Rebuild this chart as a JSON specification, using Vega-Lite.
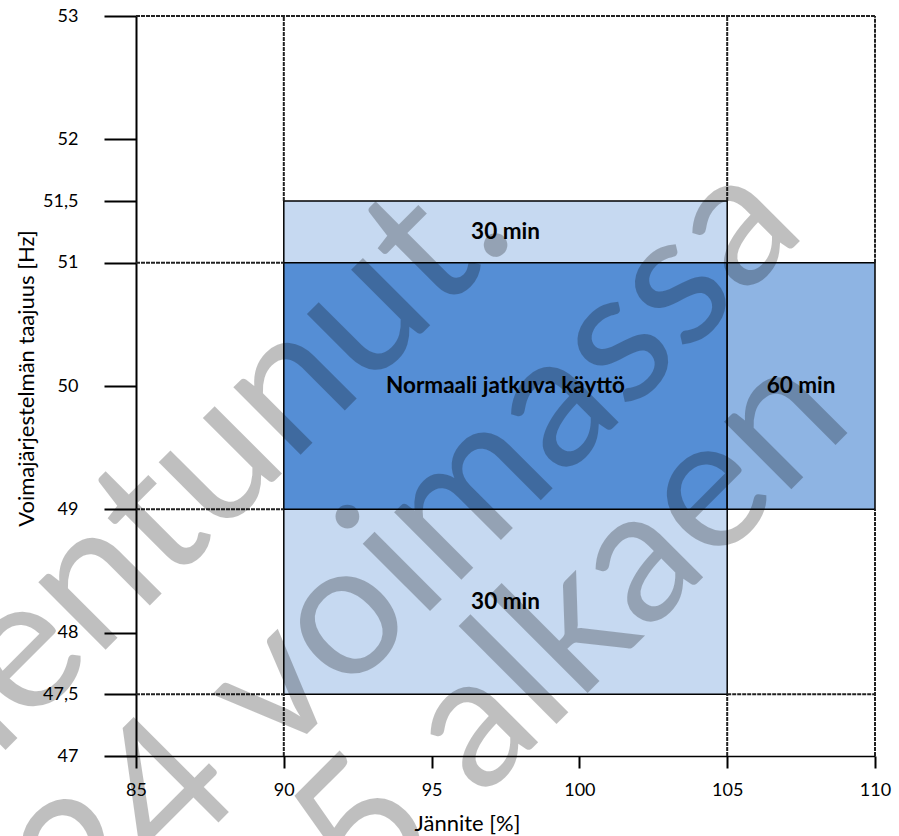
{
  "$schema": "https://vega.github.io/schema/vega-lite/v6.json",
  "width": 739,
  "height": 740,
  "autosize": {"type": "none"},
  "padding": {"left": 136, "top": 16, "right": 24, "bottom": 80},
  "background": "white",
  "config": {"view": {"stroke": null}, "font": "Lato"},
  "datasets": {
    "alueet": [
      {"alue": "30 min", "x": 90, "x2": 105, "y": 51, "y2": 51.5},
      {"alue": "30 min", "x": 90, "x2": 105, "y": 47.5, "y2": 49},
      {"alue": "Normaali", "x": 90, "x2": 105, "y": 49, "y2": 51},
      {"alue": "60 min", "x": 105, "x2": 110, "y": 49, "y2": 51}
    ],
    "katkoviivat": [
      {"x": 85, "x2": 110, "y": 53, "y2": 53},
      {"x": 90, "x2": 90, "y": 51.5, "y2": 53},
      {"x": 105, "x2": 105, "y": 51.5, "y2": 53},
      {"x": 110, "x2": 110, "y": 51, "y2": 53},
      {"x": 90, "x2": 90, "y": 47, "y2": 47.5},
      {"x": 105, "x2": 105, "y": 47, "y2": 47.5},
      {"x": 110, "x2": 110, "y": 47, "y2": 49},
      {"x": 85, "x2": 90, "y": 51, "y2": 51},
      {"x": 85, "x2": 90, "y": 49, "y2": 49},
      {"x": 85, "x2": 90, "y": 47.5, "y2": 47.5},
      {"x": 105, "x2": 110, "y": 47.5, "y2": 47.5}
    ],
    "tekstit": [
      {"teksti": "30 min", "x": 97.5, "y": 51.25},
      {"teksti": "Normaali jatkuva käyttö", "x": 97.5, "y": 50},
      {"teksti": "60 min", "x": 107.5, "y": 50},
      {"teksti": "30 min", "x": 97.5, "y": 48.25}
    ],
    "vesileima": [
      {"teksti": "Vanhentunut.", "x": 83.29, "y": 48.34},
      {"teksti": "2024 voimassa", "x": 91.7, "y": 48.04},
      {"teksti": "2025 alkaen", "x": 95.88, "y": 47.1}
    ]
  },
  "encoding": {
    "x": {
      "field": "x",
      "type": "quantitative",
      "scale": {"domain": [85, 110], "nice": false, "zero": false},
      "axis": {
        "values": [85, 90, 95, 100, 105, 110],
        "grid": false,
        "title": "Jännite [%]",
        "domainColor": "black",
        "domainWidth": 1.5,
        "tickColor": "black",
        "tickWidth": 2,
        "tickSize": 12,
        "labelFontSize": 18,
        "labelColor": "black",
        "labelPadding": 13,
        "labelFlush": false,
        "titleFontSize": 22,
        "titleFontWeight": "normal",
        "titleColor": "black",
        "titleX": 331,
        "titleY": 67,
        "titleBaseline": "middle"
      }
    },
    "y": {
      "field": "y",
      "type": "quantitative",
      "scale": {"domain": [47, 53], "nice": false, "zero": false},
      "axis": {
        "values": [47, 47.5, 48, 49, 50, 51, 51.5, 52, 53],
        "labelExpr": "replace(toString(datum.value), '.', ',')",
        "grid": false,
        "title": "Voimajärjestelmän taajuus [Hz]",
        "domainColor": "black",
        "domainWidth": 2,
        "tickColor": "black",
        "tickWidth": 2,
        "tickSize": 32,
        "labelFontSize": 18,
        "labelColor": "black",
        "labelPadding": 26,
        "labelFlush": false,
        "titleFontSize": 22,
        "titleFontWeight": "normal",
        "titleColor": "black",
        "titleX": -110,
        "titleY": 362,
        "titleBaseline": "middle"
      }
    }
  },
  "layer": [
    {
      "data": {"name": "alueet"},
      "mark": {"type": "rect", "stroke": "black", "strokeWidth": 1.5},
      "encoding": {
        "x2": {"field": "x2"},
        "y2": {"field": "y2"},
        "fill": {
          "field": "alue",
          "type": "nominal",
          "scale": {"domain": ["30 min", "Normaali", "60 min"], "range": ["#C6D9F1", "#558ED5", "#8EB4E3"]},
          "legend": null
        }
      }
    },
    {
      "data": {"name": "katkoviivat"},
      "mark": {"type": "rule", "color": "#222222", "strokeWidth": 2, "strokeDash": [4, 1]},
      "encoding": {
        "x2": {"field": "x2"},
        "y2": {"field": "y2"}
      }
    },
    {
      "data": {"name": "vesileima"},
      "mark": {"type": "text", "angle": -45, "fontSize": 188, "font": "Lato", "fill": "black", "fillOpacity": 0.25, "align": "center", "baseline": "middle"},
      "encoding": {
        "text": {"field": "teksti"}
      }
    },
    {
      "data": {"name": "tekstit"},
      "mark": {"type": "text", "fontSize": 22.5, "fontWeight": "bold", "font": "Lato", "color": "black", "align": "center", "baseline": "middle"},
      "encoding": {
        "text": {"field": "teksti"}
      }
    }
  ]
}
